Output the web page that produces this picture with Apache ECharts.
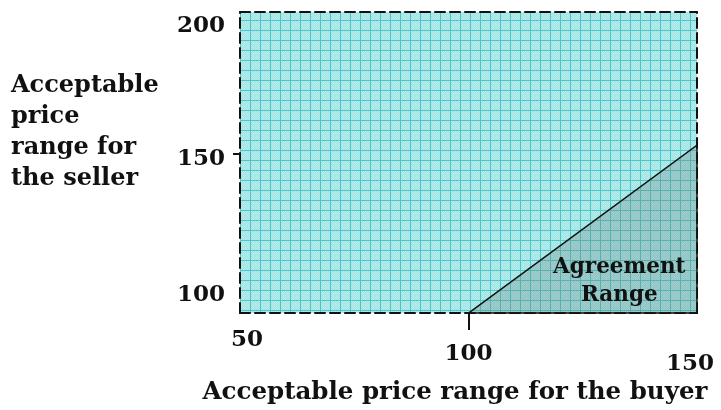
<!DOCTYPE html>
<html><head><meta charset="utf-8">
<script src="https://cdn.jsdelivr.net/npm/echarts@6/dist/echarts.min.js"></script>
<style>html,body{margin:0;padding:0;background:#fff}#c{width:721px;height:410px}</style>
</head><body><div id="c"></div>
<script>
// ---- data ----
const xTickValues = [50, 100, 150];
const xTickLabels = ['50', '100', '150'];
const yTickValues = [100, 150, 200];
const yTickLabels = ['100', '150', '200'];
const xRange = [50, 150];
const yRange = [93.7, 200];
// agreement triangle vertices (buyer price, seller price)
const agreementX = [100, 150, 150];
const agreementY = [93.7, 153, 93.7];
const agreementLabel = 'Agreement\nRange';
const agreementLabelAt = [133, 105];
const xName = 'Acceptable price range for the buyer';
const yName = 'Acceptable\nprice\nrange for\nthe seller';

// graph-paper pattern
const pc = document.createElement('canvas');
pc.width = 10; pc.height = 10;
const g = pc.getContext('2d');
g.fillStyle = '#a2e2e2'; g.fillRect(0,0,10,10);
g.fillStyle = '#b6eded';
for (let i=0;i<10;i++) for (let j=0;j<10;j++) if ((i+j)%2===0) g.fillRect(i,j,1,1);
g.fillStyle = '#4cc6c6';
g.fillRect(0,0,10,1); g.fillRect(0,0,1,10);

const FONT = 'DejaVu Serif';
const dash = [10, 5];
const lbl = (extra) => Object.assign({fontFamily: FONT, fontWeight: 'bold', fontSize: 23, color: '#111'}, extra || {});
const chart = echarts.init(document.getElementById('c'), null, {renderer:'canvas'});
chart.setOption({
  animation: false,
  title: {
    text: yName, left: 11, top: 70, padding: 0,
    textStyle: {fontFamily: FONT, fontWeight: 'bold', fontSize: 24, color: '#111', lineHeight: 31}
  },
  grid: {left: 240, right: 24, top: 12, bottom: 95, show: true,
         backgroundColor: {image: pc, repeat: 'repeat'}, borderWidth: 0},
  xAxis: [{
    type: 'value', min: xRange[0], max: xRange[1], position: 'bottom',
    name: xName, nameLocation: 'middle', nameGap: 65,
    nameTextStyle: {fontFamily: FONT, fontWeight: 'bold', fontSize: 24.5, color: '#111', padding: [0, 27, 0, 0]},
    axisLine: {show: true, lineStyle: {color: '#111', width: 2, type: dash}},
    axisTick: {show: true, customValues: [100], length: 17, lineStyle: {color: '#111', width: 2}},
    axisLabel: {
      customValues: xTickValues, margin: 15,
      formatter: v => { const i = xTickValues.indexOf(v); return '{' + ['a','b','c'][i] + '|' + xTickLabels[i] + '}'; },
      rich: {
        a: lbl({padding: [0, 0, 0, 14]}),
        b: lbl({padding: [14, 0, 0, 0]}),
        c: lbl({padding: [24, 14, 0, 0]})
      }
    },
    splitLine: {show: false}
  }, {
    type: 'value', min: xRange[0], max: xRange[1], position: 'top',
    axisLine: {show: true, lineStyle: {color: '#111', width: 2, type: dash}},
    axisTick: {show: false}, axisLabel: {show: false}, splitLine: {show: false}
  }],
  yAxis: [{
    type: 'value', min: yRange[0], max: yRange[1], position: 'left',
    axisLine: {show: true, lineStyle: {color: '#111', width: 2, type: dash}},
    axisTick: {show: true, customValues: [150], length: 7, lineStyle: {color: '#111', width: 2}},
    axisLabel: {
      customValues: yTickValues, margin: 15,
      formatter: v => { const i = yTickValues.indexOf(v); return '{' + ['a','b','c'][i] + '|' + yTickLabels[i] + '}'; },
      rich: {
        a: lbl(),
        b: lbl({padding: [10, 0, 0, 0]}),
        c: lbl({padding: [28, 0, 0, 0]})
      }
    },
    splitLine: {show: false}
  }, {
    type: 'value', min: yRange[0], max: yRange[1], position: 'right',
    axisLine: {show: true, lineStyle: {color: '#111', width: 2, type: dash}},
    axisTick: {show: false}, axisLabel: {show: false}, splitLine: {show: false}
  }],
  series: [{
    type: 'custom', coordinateSystem: 'cartesian2d', xAxisIndex: 0, yAxisIndex: 0,
    data: [0],
    renderItem: (params, api) => {
      const pts = agreementX.map((x, i) => api.coord([x, agreementY[i]]));
      const lp = api.coord(agreementLabelAt);
      return {type: 'group', children: [
        {type: 'polygon', shape: {points: pts},
         style: {fill: 'rgba(110,130,130,0.3)', stroke: '#111', lineWidth: 1.5}},
        {type: 'text', x: lp[0], y: lp[1],
         style: {text: agreementLabel, fontFamily: FONT, fontWeight: 'bold', fontSize: 21.5,
                 fill: '#111', align: 'center', verticalAlign: 'middle', lineHeight: 28}}
      ]};
    }
  }]
});
</script></body></html>
